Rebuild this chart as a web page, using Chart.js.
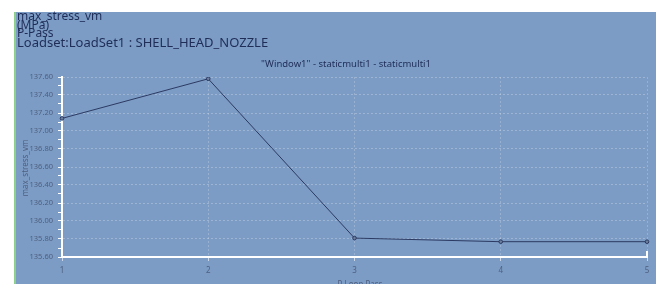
<!DOCTYPE html>
<html>
<head>
<meta charset="utf-8">
<script src="https://cdn.jsdelivr.net/npm/chart.js@4"></script>
<style>
  html, body { margin: 0; padding: 0; background: #ffffff; }
  #wrap { width: 659px; height: 284px; position: relative; }
</style>
</head>
<body>
<div id="wrap"><canvas id="myChart" width="659" height="284"></canvas></div>
<script>
// data
const passes = ['1', '2', '3', '4', '5'];
const stress = [137.14, 137.58, 135.81, 135.77, 135.77];
const yMin = 135.6;
const yMax = 137.6;
const yStep = 0.1;

const headerLines = ['max_stress_vm', '(MPa)', 'P-Pass', 'Loadset:LoadSet1 : SHELL_HEAD_NOZZLE'];
const plotTitle = '"Window1" - staticmulti1 - staticmulti1';
const yTitle = 'max_stress_vm';
const xTitle = 'P Loop Pass';

const labelColor = '#4f6080';
const textColor = '#1f2d57';

function isMajor(v) {
    return Math.round(v * 10) % 2 === 0;
}

const panel = {
    id: 'panel',
    beforeDraw(chart) {
        const c = chart.ctx;
        c.save();
        c.fillStyle = '#ffffff';
        c.fillRect(0, 0, chart.width, chart.height);
        c.fillStyle = '#7c9cc5';
        c.fillRect(16, 12, 640, 272);
        c.fillStyle = '#8fd08a';
        c.fillRect(14, 12, 2, 272);
        c.restore();
    },
    afterDraw(chart) {
        const c = chart.ctx;
        const area = chart.chartArea;
        c.save();
        c.fillStyle = textColor;
        c.textBaseline = 'alphabetic';
        c.textAlign = 'left';
        c.font = '12px "Noto Sans"';
        c.fillText(headerLines[0], 17, 20);
        c.fillText(headerLines[1], 17, 28.5);
        c.fillText(headerLines[2], 17, 37);
        c.font = '13px "Noto Sans"';
        c.fillText(headerLines[3], 17, 47);

        c.font = '9.5px "Noto Sans"';
        c.textAlign = 'center';
        c.fillText(plotTitle, 346, 67);

        // small closing tick at right end of x axis
        c.strokeStyle = '#ffffff';
        c.lineWidth = 2;
        c.beginPath();
        c.moveTo(area.right, area.bottom);
        c.lineTo(area.right, area.bottom - 6);
        c.stroke();

        c.fillStyle = labelColor;
        c.font = '8px "Noto Sans"';
        c.fillText(xTitle, 360, 287);

        c.translate(25, 168);
        c.rotate(-Math.PI / 2);
        c.fillText(yTitle, 0, 3);
        c.restore();
    }
};

const ctx = document.getElementById('myChart').getContext('2d');

const myChart = new Chart(ctx, {
    type: 'line',
    data: {
        labels: passes,
        datasets: [{
            label: yTitle,
            data: stress,
            borderColor: '#2c3a62',
            borderWidth: 1,
            tension: 0,
            fill: false,
            pointRadius: 1.8,
            pointBackgroundColor: '#6d7f9f',
            pointBorderColor: '#2c3a62',
            pointBorderWidth: 1
        }]
    },
    options: {
        responsive: false,
        animation: false,
        devicePixelRatio: 1,
        layout: {
            padding: { left: 16, right: 12, top: 77, bottom: 0 }
        },
        scales: {
            x: {
                offset: false,
                afterFit: function(s) { s.height = 27; },
                grid: {
                    color: 'rgba(255,255,255,0.22)',
                    lineWidth: 1,
                    tickColor: 'rgba(255,255,255,0.6)',
                    tickLength: 4,
                    drawOnChartArea: true
                },
                border: {
                    color: '#ffffff',
                    width: 2,
                    dash: [2, 2]
                },
                ticks: {
                    color: labelColor,
                    padding: 5,
                    maxRotation: 0,
                    font: { family: 'Noto Sans', size: 8 }
                }
            },
            y: {
                min: yMin,
                max: yMax,
                afterFit: function(s) { s.width = 46; },
                afterBuildTicks: function(s) {
                    const t = [];
                    for (let i = 0; i <= Math.round((yMax - yMin) / yStep); i++) {
                        t.push({ value: +(yMin + i * yStep).toFixed(2) });
                    }
                    s.ticks = t;
                },
                grid: {
                    color: function(c) {
                        return isMajor(c.tick.value) ? 'rgba(255,255,255,0.25)' : 'rgba(0,0,0,0)';
                    },
                    tickColor: '#ffffff',
                    tickLength: 4,
                    lineWidth: 1
                },
                border: {
                    color: '#ffffff',
                    width: 2,
                    dash: [2, 2]
                },
                ticks: {
                    autoSkip: false,
                    color: labelColor,
                    padding: 5,
                    font: { family: 'Noto Sans', size: 7.5 },
                    callback: function(v) {
                        return isMajor(v) ? v.toFixed(2) : '';
                    }
                }
            }
        },
        plugins: {
            legend: { display: false },
            tooltip: { enabled: false }
        }
    },
    plugins: [panel]
});
</script>
</body>
</html>
